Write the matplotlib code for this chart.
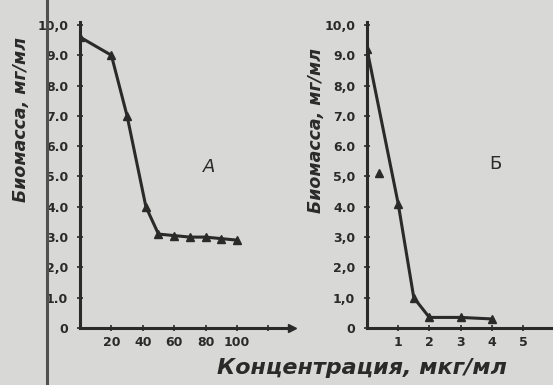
import matplotlib.pyplot as plt

# panel A: biomass vs concentration (0-100 mkg/ml)
conc_a = [0, 20, 30, 42, 50, 60, 70, 80, 90, 100]
bio_a = [9.6, 9.0, 7.0, 4.0, 3.1, 3.05, 3.0, 3.0, 2.95, 2.9]

# panel B: biomass vs concentration (0-4 mkg/ml)
conc_b = [0, 1, 1.5, 2, 3, 4]
bio_b = [9.2, 4.1, 1.0, 0.35, 0.35, 0.3]
# stray point off the curve
conc_b_extra = [0.4]
bio_b_extra = [5.1]

yticks = [0, 1, 2, 3, 4, 5, 6, 7, 8, 9, 10]
ylabels_a = ["0", "1.0", "2,0", "3.0", "4.0", "5.0", "6.0", "7.0", "8.0", "9.0", "10,0"]
ylabels_b = ["0", "1,0", "2,0", "3,0", "4.0", "5,0", "6.0", "7.0", "8,0", "9.0", "10,0"]
xticks_a = [20, 40, 60, 80, 100, 120]
xlabels_a = ["20", "40", "60", "80", "100", ""]
xticks_b = [1, 2, 3, 4, 5]
xlabels_b = ["1", "2", "3", "4", "5"]

bg = "#d8d8d6"
ink = "#2a2a2a"

fig = plt.figure(figsize=(5.53, 3.85), dpi=100, facecolor=bg)

# book gutter line on the scan
fig.add_artist(plt.Line2D([0.085, 0.085], [0, 1], color="#505050", lw=2.2,
                          transform=fig.transFigure))

ax_a = fig.add_axes([0.1447, 0.148, 0.383, 0.795])
ax_b = fig.add_axes([0.6637, 0.148, 0.336, 0.795])

for ax in (ax_a, ax_b):
    ax.set_facecolor("none")
    for s in ("top", "right"):
        ax.spines[s].set_visible(False)
    for s in ("left", "bottom"):
        ax.spines[s].set_linewidth(2.2)
        ax.spines[s].set_color(ink)
    ax.tick_params(direction="inout", length=5, width=1.2, colors=ink,
                   labelsize=9)
    ax.set_yticks(yticks)
    ax.set_ylim(0, 10.1)

# panel A
ax_a.plot(conc_a, bio_a, color=ink, lw=2.2, marker="^", ms=6)
ax_a.set_xlim(0, 135)
ax_a.set_xticks(xticks_a)
ax_a.set_xticklabels(xlabels_a, fontweight="bold")
ax_a.set_yticklabels(ylabels_a, fontweight="bold")
ax_a.tick_params(axis="y", pad=6)
ax_a.plot(1, 0, ">", color=ink, ms=6, transform=ax_a.get_yaxis_transform(),
          clip_on=False)
ax_a.set_ylabel("Биомасса, мг/мл", style="italic", fontweight="bold",
                fontsize=12.5, color=ink)
ax_a.yaxis.set_label_coords(-0.236, 0.68)
ax_a.text(82, 5.3, "А", style="italic", fontsize=13, color=ink, ha="center",
          va="center")

# panel B
ax_b.plot(conc_b, bio_b, color=ink, lw=2.2, marker="^", ms=6)
ax_b.plot(conc_b_extra, bio_b_extra, ls="none", color=ink, marker="^", ms=6)
ax_b.set_xlim(0, 5.96)
ax_b.set_xticks(xticks_b)
ax_b.set_xticklabels(xlabels_b, fontweight="bold")
ax_b.set_yticklabels(ylabels_b, fontweight="bold")
ax_b.tick_params(axis="y", pad=6)
ax_b.set_ylabel("Биомасса, мг/мл", style="italic", fontweight="bold",
                fontsize=12.5, color=ink)
ax_b.yaxis.set_label_coords(-0.226, 0.644)
ax_b.text(4.13, 5.4, "Б", fontsize=13, color=ink, ha="center", va="center")

fig.text(0.655, 0.045, "Концентрация, мкг/мл", style="italic",
         fontweight="bold", fontsize=16, color=ink, ha="center", va="center")

fig.savefig("out.png", dpi=100, facecolor=bg)
